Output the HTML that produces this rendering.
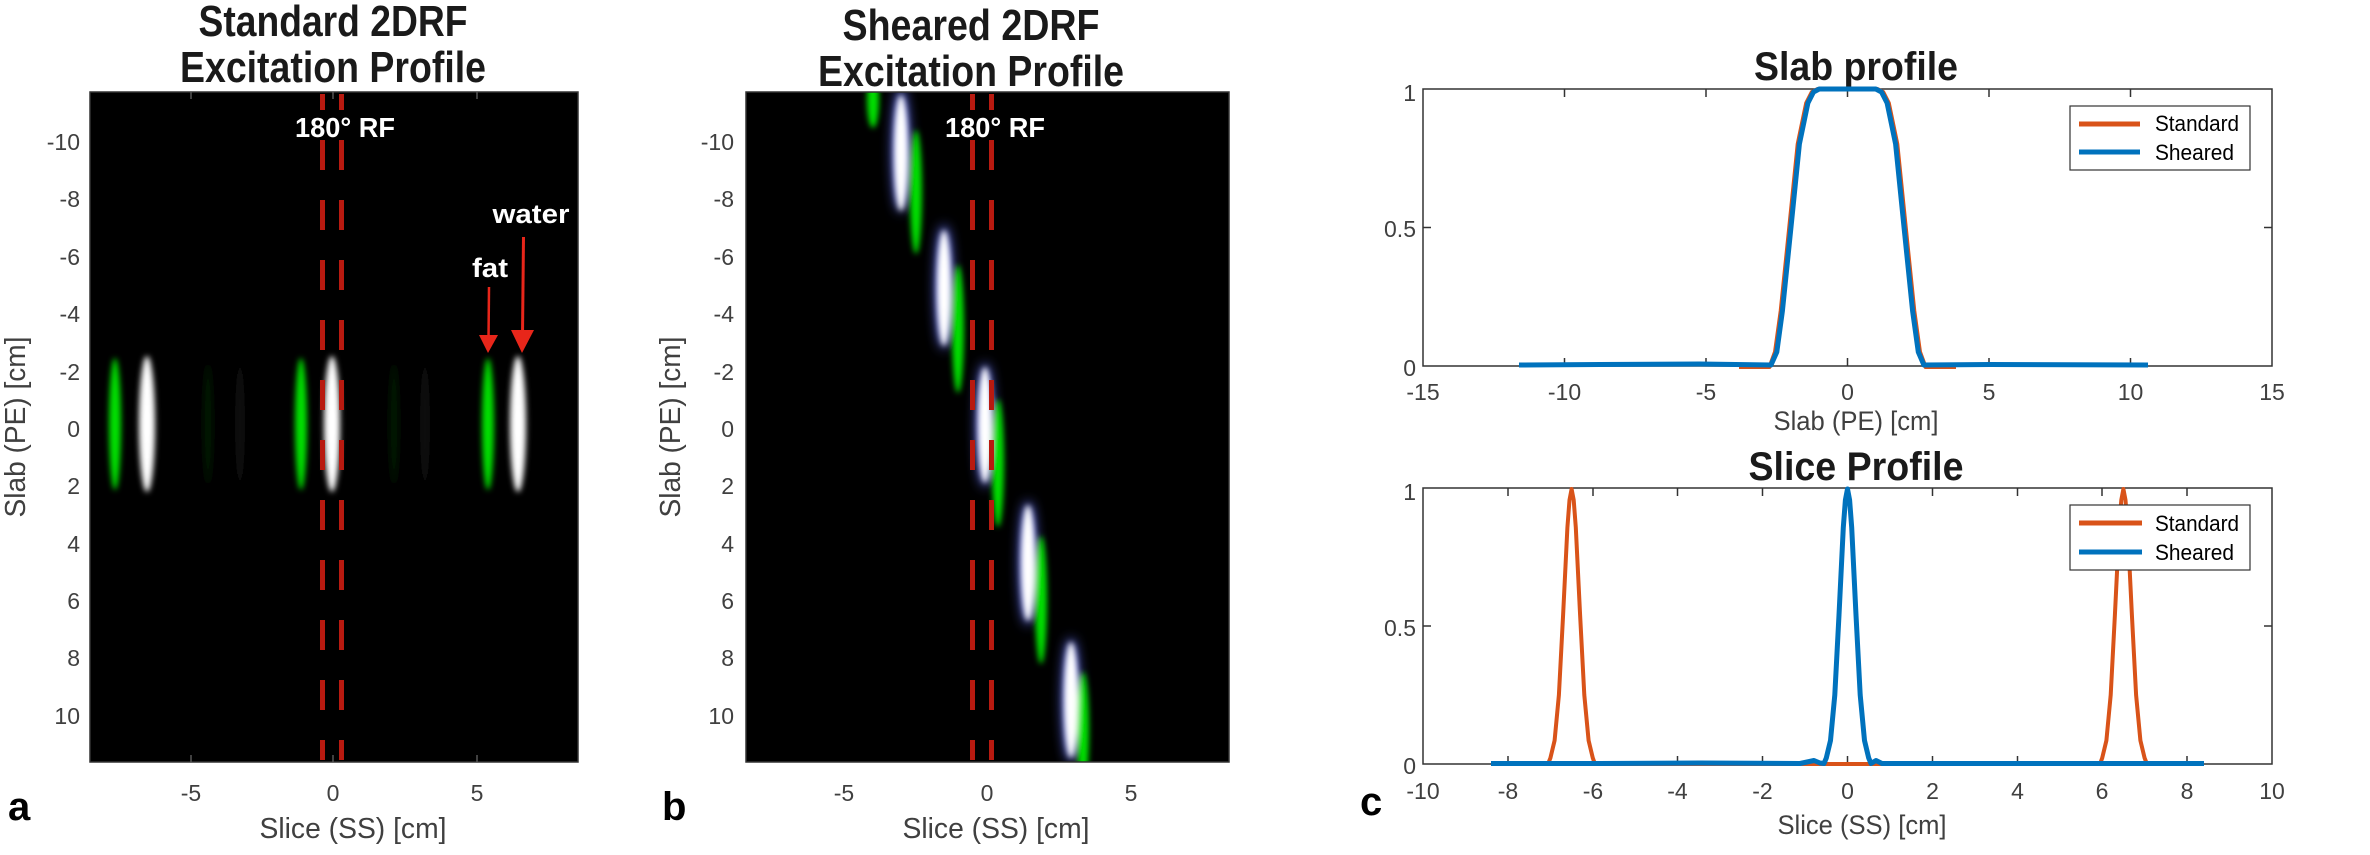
<!DOCTYPE html>
<html><head><meta charset="utf-8"><style>
html,body{margin:0;padding:0;background:#fff;width:2370px;height:855px;overflow:hidden}
svg{display:block}
.n{font-family:"Liberation Sans Narrow","Liberation Sans",sans-serif}
.t{font-family:"Liberation Sans Narrow","Liberation Sans",sans-serif;font-weight:bold;fill:#1a1a1a}
.tk{font-family:"Liberation Sans Narrow","Liberation Sans",sans-serif;fill:#404040;font-size:23px}
.w{font-family:"Liberation Sans","DejaVu Sans",sans-serif;font-weight:bold;fill:#fff}
.lt{font-family:"Liberation Sans",sans-serif;font-weight:bold;fill:#000;font-size:40px}
</style></head><body>
<svg width="2370" height="855" viewBox="0 0 2370 855" xmlns="http://www.w3.org/2000/svg">
<defs>
<filter id="b1" x="-2" y="-1" width="5" height="3"><feGaussianBlur stdDeviation="3"/></filter>
<filter id="b2" x="-2" y="-1" width="5" height="3"><feGaussianBlur stdDeviation="6"/></filter>
</defs>

<!-- Panel a -->
<text class="t" x="333" y="36" font-size="44" text-anchor="middle" textLength="269" lengthAdjust="spacingAndGlyphs">Standard 2DRF</text>
<text class="t" x="333" y="82" font-size="44" text-anchor="middle" textLength="306" lengthAdjust="spacingAndGlyphs">Excitation Profile</text>
<rect x="90" y="92" width="488" height="670" fill="#000" stroke="#333" stroke-width="1.5"/>
<g filter="url(#b1)">
<ellipse cx="115" cy="424" rx="6" ry="66" fill="#00e000"/>
<ellipse cx="147" cy="424" rx="8" ry="68" fill="#fff"/>
<ellipse cx="301" cy="424" rx="6" ry="66" fill="#00e000"/>
<ellipse cx="332" cy="424" rx="8" ry="68" fill="#fff"/>
<ellipse cx="488" cy="424" rx="6" ry="66" fill="#00e000"/>
<ellipse cx="518" cy="424" rx="8" ry="68" fill="#fff"/>
<ellipse cx="394" cy="424" rx="5" ry="60" fill="#061806"/>
<ellipse cx="425" cy="424" rx="5" ry="60" fill="#0d0d0d"/>
<ellipse cx="208" cy="424" rx="5" ry="60" fill="#061806"/>
<ellipse cx="240" cy="424" rx="5" ry="60" fill="#0d0d0d"/>
</g>
<line x1="322.5" y1="94" x2="322.5" y2="760" stroke="#b81a10" stroke-width="5" stroke-dasharray="30 30" stroke-dashoffset="14"/>
<line x1="341.5" y1="94" x2="341.5" y2="760" stroke="#b81a10" stroke-width="5" stroke-dasharray="30 30" stroke-dashoffset="14"/>
<text class="w" x="345" y="137" font-size="28" text-anchor="middle" textLength="100" lengthAdjust="spacingAndGlyphs">180° RF</text>
<text class="w" x="531" y="223" font-size="27" text-anchor="middle" textLength="77" lengthAdjust="spacingAndGlyphs">water</text>
<text class="w" x="490" y="277" font-size="27" text-anchor="middle" textLength="36" lengthAdjust="spacingAndGlyphs">fat</text>
<line x1="489" y1="287" x2="488.5" y2="340" stroke="#e8261a" stroke-width="2.5"/>
<polygon points="479,335 498,335 488,353" fill="#e8261a"/>
<line x1="523.5" y1="237" x2="522.5" y2="335" stroke="#e8261a" stroke-width="3"/>
<polygon points="511,330 534,330 522,353" fill="#e8261a"/>
<g stroke="#555" stroke-width="1.5">
<line x1="191" y1="92" x2="191" y2="99"/><line x1="333" y1="92" x2="333" y2="99"/><line x1="477" y1="92" x2="477" y2="99"/>
<line x1="191" y1="762" x2="191" y2="755"/><line x1="333" y1="762" x2="333" y2="755"/><line x1="477" y1="762" x2="477" y2="755"/>
</g>
<g class="tk" text-anchor="end">
<text x="80" y="150">-10</text><text x="80" y="207">-8</text><text x="80" y="265">-6</text><text x="80" y="322">-4</text><text x="80" y="380">-2</text><text x="80" y="437">0</text><text x="80" y="494">2</text><text x="80" y="552">4</text><text x="80" y="609">6</text><text x="80" y="666">8</text><text x="80" y="724">10</text>
</g>
<g class="tk" text-anchor="middle">
<text x="191" y="801">-5</text><text x="333" y="801">0</text><text x="477" y="801">5</text>
</g>
<text class="n" x="353" y="838" font-size="29" fill="#404040" text-anchor="middle" textLength="187" lengthAdjust="spacingAndGlyphs">Slice (SS) [cm]</text>
<text class="n" x="0" y="0" font-size="29" fill="#404040" text-anchor="middle" transform="translate(25,427) rotate(-90)" textLength="181" lengthAdjust="spacingAndGlyphs">Slab (PE) [cm]</text>
<text class="lt" x="8" y="820">a</text>

<!-- Panel b -->
<text class="t" x="971" y="40" font-size="44" text-anchor="middle" textLength="257" lengthAdjust="spacingAndGlyphs">Sheared 2DRF</text>
<text class="t" x="971" y="86" font-size="44" text-anchor="middle" textLength="306" lengthAdjust="spacingAndGlyphs">Excitation Profile</text>
<svg x="746" y="92" width="483" height="670" viewBox="746 92 483 670">
<rect x="746" y="92" width="483" height="670" fill="#000"/>
<g filter="url(#b2)">
<ellipse cx="901" cy="150" rx="8" ry="62" fill="#6070ff"/>
<ellipse cx="944" cy="287" rx="8" ry="62" fill="#6070ff"/>
<ellipse cx="985" cy="425" rx="8" ry="62" fill="#6070ff"/>
<ellipse cx="1028" cy="563" rx="8" ry="62" fill="#6070ff"/>
<ellipse cx="1071" cy="700" rx="8" ry="62" fill="#6070ff"/>
</g>
<g filter="url(#b1)">
<ellipse cx="873" cy="100" rx="6" ry="28" fill="#00e000"/>
<ellipse cx="916" cy="192" rx="6" ry="62" fill="#00e000"/>
<ellipse cx="958" cy="329" rx="6" ry="64" fill="#00e000"/>
<ellipse cx="998" cy="463" rx="6" ry="64" fill="#00e000"/>
<ellipse cx="1041" cy="600" rx="6" ry="64" fill="#00e000"/>
<ellipse cx="1083" cy="730" rx="6" ry="58" fill="#00e000"/>
<ellipse cx="901" cy="153" rx="7" ry="58" fill="#fff"/>
<ellipse cx="944" cy="288" rx="7" ry="58" fill="#fff"/>
<ellipse cx="985" cy="425" rx="7" ry="58" fill="#fff"/>
<ellipse cx="1028" cy="563" rx="7" ry="58" fill="#fff"/>
<ellipse cx="1071" cy="700" rx="7" ry="58" fill="#fff"/>
</g>
</svg>
<rect x="746" y="92" width="483" height="670" fill="none" stroke="#333" stroke-width="1.5"/>
<line x1="972.5" y1="94" x2="972.5" y2="760" stroke="#b81a10" stroke-width="5" stroke-dasharray="30 30" stroke-dashoffset="14"/>
<line x1="991.5" y1="94" x2="991.5" y2="760" stroke="#b81a10" stroke-width="5" stroke-dasharray="30 30" stroke-dashoffset="14"/>
<text class="w" x="995" y="137" font-size="28" text-anchor="middle" textLength="100" lengthAdjust="spacingAndGlyphs">180° RF</text>
<g class="tk" text-anchor="end">
<text x="734" y="150">-10</text><text x="734" y="207">-8</text><text x="734" y="265">-6</text><text x="734" y="322">-4</text><text x="734" y="380">-2</text><text x="734" y="437">0</text><text x="734" y="494">2</text><text x="734" y="552">4</text><text x="734" y="609">6</text><text x="734" y="666">8</text><text x="734" y="724">10</text>
</g>
<g class="tk" text-anchor="middle">
<text x="844" y="801">-5</text><text x="987" y="801">0</text><text x="1131" y="801">5</text>
</g>
<text class="n" x="996" y="838" font-size="29" fill="#404040" text-anchor="middle" textLength="187" lengthAdjust="spacingAndGlyphs">Slice (SS) [cm]</text>
<text class="n" x="0" y="0" font-size="29" fill="#404040" text-anchor="middle" transform="translate(680,427) rotate(-90)" textLength="181" lengthAdjust="spacingAndGlyphs">Slab (PE) [cm]</text>
<text class="lt" x="662" y="820">b</text>

<!-- Panel c top -->
<text class="t" x="1856" y="80" font-size="40" text-anchor="middle" textLength="204" lengthAdjust="spacingAndGlyphs">Slab profile</text>
<rect x="1423" y="89" width="849" height="277" fill="#fff" stroke="#333" stroke-width="1.5"/>
<g stroke="#333" stroke-width="1.5">
<line x1="1564.5" y1="89" x2="1564.5" y2="97"/><line x1="1706" y1="89" x2="1706" y2="97"/><line x1="1847.5" y1="89" x2="1847.5" y2="97"/><line x1="1989" y1="89" x2="1989" y2="97"/><line x1="2130.5" y1="89" x2="2130.5" y2="97"/>
<line x1="1564.5" y1="366" x2="1564.5" y2="358"/><line x1="1706" y1="366" x2="1706" y2="358"/><line x1="1847.5" y1="366" x2="1847.5" y2="358"/><line x1="1989" y1="366" x2="1989" y2="358"/><line x1="2130.5" y1="366" x2="2130.5" y2="358"/>
<line x1="1423" y1="227.5" x2="1431" y2="227.5"/><line x1="2272" y1="227.5" x2="2264" y2="227.5"/>
</g>
<polyline fill="none" stroke="#d95319" stroke-width="4" stroke-linejoin="round" points="1739,367 1769.5,367 1775,352 1780.7,311 1789.2,228 1797.7,144 1806.2,103 1811.8,92 1817.5,89 1877.5,89 1883.2,92 1888.8,103 1897.3,144 1905.8,228 1914.3,311 1920,352 1925.5,367 1956,367"/>
<polyline fill="none" stroke="#0072bd" stroke-width="5" stroke-linejoin="round" points="1519,365 1600,364.5 1700,364 1771,365 1776.8,352 1782.4,311 1790.9,228 1799.4,144 1807.9,103 1813.5,92 1819.2,89 1875.8,89 1881.5,92 1887.1,103 1895.6,144 1904.1,228 1912.6,311 1918.3,352 1923.9,365 1990,364.5 2148,365"/>
<rect x="2070" y="106" width="180" height="64" fill="#fff" stroke="#333" stroke-width="1.2"/>
<line x1="2079" y1="124" x2="2140" y2="124" stroke="#d95319" stroke-width="5"/>
<line x1="2079" y1="152" x2="2140" y2="152" stroke="#0072bd" stroke-width="5"/>
<text class="n" x="2155" y="131" font-size="22" fill="#000" textLength="84" lengthAdjust="spacingAndGlyphs">Standard</text>
<text class="n" x="2155" y="160" font-size="22" fill="#000" textLength="79" lengthAdjust="spacingAndGlyphs">Sheared</text>
<g class="tk" text-anchor="end">
<text x="1416" y="101">1</text><text x="1416" y="237">0.5</text><text x="1416" y="376">0</text>
</g>
<g class="tk" text-anchor="middle">
<text x="1423" y="400">-15</text><text x="1564.5" y="400">-10</text><text x="1706" y="400">-5</text><text x="1847.5" y="400">0</text><text x="1989" y="400">5</text><text x="2130.5" y="400">10</text><text x="2272" y="400">15</text>
</g>
<text class="n" x="1856" y="430" font-size="27" fill="#404040" text-anchor="middle" textLength="165" lengthAdjust="spacingAndGlyphs">Slab (PE) [cm]</text>

<!-- Panel c bottom -->
<text class="t" x="1856" y="480" font-size="40" text-anchor="middle" textLength="215" lengthAdjust="spacingAndGlyphs">Slice Profile</text>
<rect x="1423" y="488" width="849" height="276" fill="#fff" stroke="#333" stroke-width="1.5"/>
<g stroke="#333" stroke-width="1.5">
<line x1="1508" y1="488" x2="1508" y2="496"/><line x1="1593" y1="488" x2="1593" y2="496"/><line x1="1677.5" y1="488" x2="1677.5" y2="496"/><line x1="1762.5" y1="488" x2="1762.5" y2="496"/><line x1="1847.5" y1="488" x2="1847.5" y2="496"/><line x1="1932.5" y1="488" x2="1932.5" y2="496"/><line x1="2017.5" y1="488" x2="2017.5" y2="496"/><line x1="2102" y1="488" x2="2102" y2="496"/><line x1="2187" y1="488" x2="2187" y2="496"/>
<line x1="1508" y1="764" x2="1508" y2="756"/><line x1="1593" y1="764" x2="1593" y2="756"/><line x1="1677.5" y1="764" x2="1677.5" y2="756"/><line x1="1762.5" y1="764" x2="1762.5" y2="756"/><line x1="1847.5" y1="764" x2="1847.5" y2="756"/><line x1="1932.5" y1="764" x2="1932.5" y2="756"/><line x1="2017.5" y1="764" x2="2017.5" y2="756"/><line x1="2102" y1="764" x2="2102" y2="756"/><line x1="2187" y1="764" x2="2187" y2="756"/>
<line x1="1423" y1="626" x2="1431" y2="626"/><line x1="2272" y1="626" x2="2264" y2="626"/>
</g>
<polyline fill="none" stroke="#d95319" stroke-width="4" stroke-linejoin="round" points="1491,764 1548,764 1550.4,758 1554.6,740.5 1558.9,695 1563.1,615 1567.4,527.5 1569.5,500 1571.6,489 1573.7,500 1575.8,527.5 1580.1,615 1584.3,695 1588.6,740.5 1592.8,758 1595,764 2100,764 2102.2,758 2106.4,740.5 2110.7,695 2114.9,615 2119.2,527.5 2121.3,500 2123.4,489 2125.5,500 2127.6,527.5 2131.9,615 2136.1,695 2140.4,740.5 2144.6,758 2147,764 2204,764"/>
<polyline fill="none" stroke="#0072bd" stroke-width="5" stroke-linejoin="round" points="1491,763.5 1600,763.5 1700,763 1800,763.5 1814,760.5 1820,763 1824,763.5 1826.3,758 1830.5,740.5 1834.8,695 1839,615 1843.3,527.5 1845.4,500 1847.5,489 1849.6,500 1851.7,527.5 1856,615 1860.2,695 1864.5,740.5 1868.7,758 1871,763.5 1876,760.5 1882,763.5 2000,763.5 2100,763.5 2204,763.5"/>
<rect x="2070" y="505" width="180" height="65" fill="#fff" stroke="#333" stroke-width="1.2"/>
<line x1="2079" y1="523" x2="2142" y2="523" stroke="#d95319" stroke-width="5"/>
<line x1="2079" y1="552" x2="2142" y2="552" stroke="#0072bd" stroke-width="5"/>
<text class="n" x="2155" y="531" font-size="22" fill="#000" textLength="84" lengthAdjust="spacingAndGlyphs">Standard</text>
<text class="n" x="2155" y="560" font-size="22" fill="#000" textLength="79" lengthAdjust="spacingAndGlyphs">Sheared</text>
<g class="tk" text-anchor="end">
<text x="1416" y="500">1</text><text x="1416" y="636">0.5</text><text x="1416" y="774">0</text>
</g>
<g class="tk" text-anchor="middle">
<text x="1423" y="799">-10</text><text x="1508" y="799">-8</text><text x="1593" y="799">-6</text><text x="1677.5" y="799">-4</text><text x="1762.5" y="799">-2</text><text x="1847.5" y="799">0</text><text x="1932.5" y="799">2</text><text x="2017.5" y="799">4</text><text x="2102" y="799">6</text><text x="2187" y="799">8</text><text x="2272" y="799">10</text>
</g>
<text class="n" x="1862" y="834" font-size="27" fill="#404040" text-anchor="middle" textLength="169" lengthAdjust="spacingAndGlyphs">Slice (SS) [cm]</text>
<text class="lt" x="1360" y="815">c</text>
</svg>
</body></html>
